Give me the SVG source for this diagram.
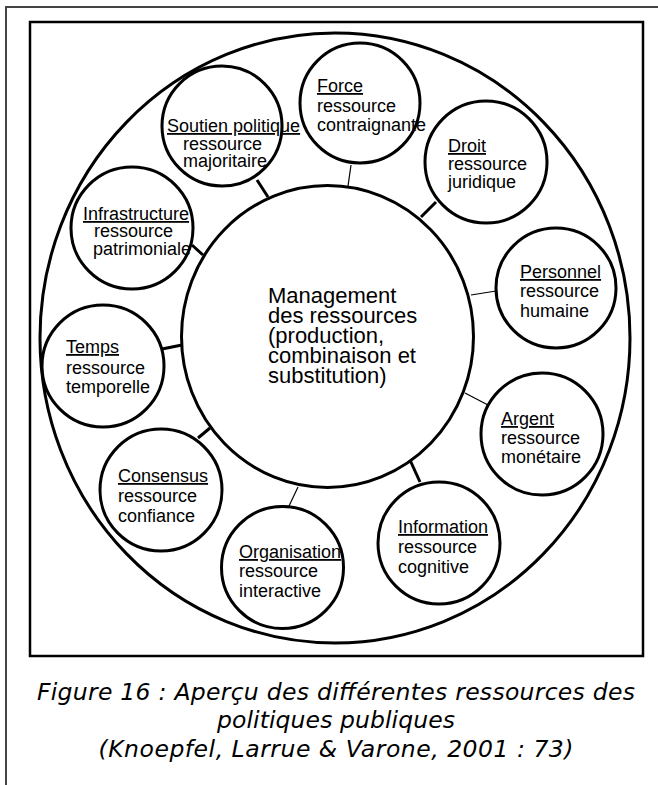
<svg xmlns="http://www.w3.org/2000/svg" width="658" height="785" viewBox="0 0 658 785">
<style>
.c{fill:none;stroke:#000;stroke-width:3}
.t{font-family:"Liberation Sans",Arial,sans-serif;font-size:18px;fill:#000}
.h{text-decoration:underline}
.m{font-family:"Liberation Sans",Arial,sans-serif;font-size:22px;fill:#000}
.k{stroke:#000;stroke-width:3}
.n{stroke:#000;stroke-width:1.2}
.cap{font-family:"DejaVu Sans",Verdana,sans-serif;font-style:italic;font-size:23.5px;fill:#000;text-anchor:middle}
</style>
<rect width="658" height="785" fill="#fff"/>
<g id="page-frame" fill="none" stroke="#444" stroke-width="2">
<path d="M6,785 V7 H658"/>
</g>
<rect id="figure-box" x="30" y="22" width="613" height="634" fill="none" stroke="#000" stroke-width="2.5"/>
<ellipse id="outer-ring" cx="335" cy="338" rx="295" ry="305" class="c"/>
<g id="connectors">
<line x1="257" y1="180" x2="268" y2="197" class="k"/>
<line x1="351" y1="165" x2="348" y2="186" class="n"/>
<line x1="436" y1="202" x2="421" y2="217" class="k"/>
<line x1="496" y1="291" x2="471" y2="295" class="n"/>
<line x1="465" y1="393" x2="488" y2="405" class="n"/>
<line x1="410" y1="460" x2="420" y2="482" class="k"/>
<line x1="298" y1="487" x2="289" y2="506" class="n"/>
<line x1="198" y1="438" x2="210" y2="428" class="k"/>
<line x1="162" y1="349" x2="182" y2="345" class="k"/>
<line x1="192" y1="245" x2="203" y2="255" class="k"/>
</g>
<g id="center">
<ellipse cx="327.5" cy="336.5" rx="146" ry="151" class="c"/>
<text class="m" x="268" y="303">Management<tspan x="268" dy="20">des ressources</tspan><tspan x="268" dy="20">(production,</tspan><tspan x="268" dy="20">combinaison et</tspan><tspan x="268" dy="20">substitution)</tspan></text>
</g>
<g id="soutien">
<circle cx="222" cy="126" r="60" class="c"/>
<text class="t" x="167" y="132"><tspan class="h">Soutien politique</tspan><tspan x="183" y="150">ressource</tspan><tspan x="183" y="167">majoritaire</tspan></text>
</g>
<g id="force">
<circle cx="360" cy="103" r="60" class="c"/>
<text class="t" x="317" y="92"><tspan class="h">Force</tspan><tspan x="317" y="112">ressource</tspan><tspan x="317" y="131">contraignante</tspan></text>
</g>
<g id="droit">
<circle cx="486" cy="162" r="61" class="c"/>
<text class="t" x="448" y="152"><tspan class="h">Droit</tspan><tspan x="448" y="170">ressource</tspan><tspan x="448" y="188">juridique</tspan></text>
</g>
<g id="personnel">
<circle cx="556" cy="288" r="60" class="c"/>
<text class="t" x="520" y="278"><tspan class="h">Personnel</tspan><tspan x="520" y="297">ressource</tspan><tspan x="520" y="317">humaine</tspan></text>
</g>
<g id="argent">
<circle cx="542" cy="434" r="61" class="c"/>
<text class="t" x="501" y="425"><tspan class="h">Argent</tspan><tspan x="501" y="444">ressource</tspan><tspan x="501" y="463">monétaire</tspan></text>
</g>
<g id="information">
<circle cx="439" cy="543" r="61" class="c"/>
<text class="t" x="398" y="533"><tspan class="h">Information</tspan><tspan x="398" y="553">ressource</tspan><tspan x="398" y="573">cognitive</tspan></text>
</g>
<g id="organisation">
<circle cx="282.5" cy="567.5" r="61" class="c"/>
<text class="t" x="239" y="558"><tspan class="h">Organisation</tspan><tspan x="239" y="577">ressource</tspan><tspan x="239" y="597">interactive</tspan></text>
</g>
<g id="consensus">
<circle cx="161" cy="490" r="61" class="c"/>
<text class="t" x="118" y="482"><tspan class="h">Consensus</tspan><tspan x="118" y="502">ressource</tspan><tspan x="118" y="522">confiance</tspan></text>
</g>
<g id="temps">
<circle cx="103" cy="366" r="61" class="c"/>
<text class="t" x="66" y="353"><tspan class="h">Temps</tspan><tspan x="66" y="374">ressource</tspan><tspan x="66" y="393">temporelle</tspan></text>
</g>
<g id="infrastructure">
<circle cx="132" cy="228" r="61" class="c"/>
<text class="t" x="83" y="220"><tspan class="h">Infrastructure</tspan><tspan x="94" y="237">ressource</tspan><tspan x="93" y="255">patrimoniale</tspan></text>
</g>
<g id="caption">
<text class="cap" x="336" y="700" textLength="598" lengthAdjust="spacing">Figure 16 : Aperçu des différentes ressources des</text>
<text class="cap" x="336" y="728" textLength="238" lengthAdjust="spacing">politiques publiques</text>
<text class="cap" x="336" y="757" textLength="475" lengthAdjust="spacing">(Knoepfel, Larrue &amp; Varone, 2001 : 73)</text>
</g>
</svg>
